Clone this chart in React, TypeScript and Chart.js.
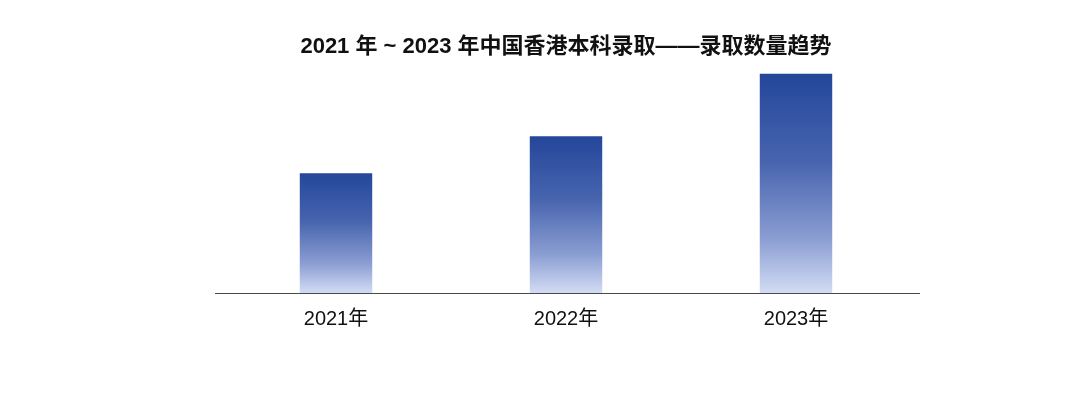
import React, { useEffect, useRef } from "react";
import { Chart, registerables } from "chart.js";

Chart.register(...registerables);

const TITLE = "2021 年 ~ 2023 年中国香港本科录取——录取数量趋势";
const categories = ["2021年", "2022年", "2023年"];
const admissions = [120, 157, 220];
const yMax = 220;

const FONT = '"Liberation Sans", "Noto Sans CJK SC", Arial, sans-serif';

const baselinePlugin = {
  id: "baseline",
  afterDatasetsDraw(chart: any) {
    const { ctx, chartArea, scales } = chart;
    const y = Math.round(scales.y.getPixelForValue(0)) + 0.5;
    ctx.save();
    ctx.strokeStyle = "#4a4a4a";
    ctx.lineWidth = 1.2;
    ctx.beginPath();
    ctx.moveTo(chartArea.left - 6, y);
    ctx.lineTo(chartArea.right + 9, y);
    ctx.stroke();
    ctx.restore();
  },
};

export default function App() {
  const canvasRef = useRef<HTMLCanvasElement | null>(null);

  useEffect(() => {
    const canvas = canvasRef.current;
    if (!canvas) return;
    const chart = new Chart(canvas, {
      type: "bar",
      data: {
        labels: categories,
        datasets: [
          {
            data: admissions,
            backgroundColor: (context: any) => {
              const c = context.chart;
              const { ctx, chartArea, scales } = c;
              if (!chartArea || context.parsed == null) return "#3a5aa8";
              const top = scales.y.getPixelForValue(context.parsed.y);
              const bottom = scales.y.getPixelForValue(0);
              const g = ctx.createLinearGradient(0, top, 0, bottom);
              g.addColorStop(0, "#24469a");
              g.addColorStop(0.4, "#4764ae");
              g.addColorStop(0.75, "#8a9dd2");
              g.addColorStop(1, "#d3dcf4");
              return g;
            },
            borderWidth: 0,
            barPercentage: 0.315,
            categoryPercentage: 1,
          },
        ],
      },
      options: {
        responsive: false,
        animation: false,
        layout: {
          padding: { left: 221, right: 169, top: 0, bottom: 72 },
        },
        plugins: {
          legend: { display: false },
          tooltip: { enabled: false },
          title: {
            display: true,
            text: TITLE,
            color: "#111",
            font: { family: FONT, size: 22, weight: "bold" },
            padding: { top: 34, bottom: 13 },
          },
        },
        scales: {
          x: {
            grid: { display: false, drawTicks: false },
            border: { display: false },
            ticks: {
              color: "#111",
              padding: 14,
              font: { family: FONT, size: 20 },
            },
          },
          y: {
            display: false,
            min: 0,
            max: yMax,
          },
        },
      },
      plugins: [baselinePlugin],
    });
    return () => chart.destroy();
  }, []);

  return (
    <div style={{ position: "absolute", left: 0, top: 0, width: 1080, height: 417, background: "#fff" }}>
      <canvas ref={canvasRef} width={1080} height={417} />
    </div>
  );
}
